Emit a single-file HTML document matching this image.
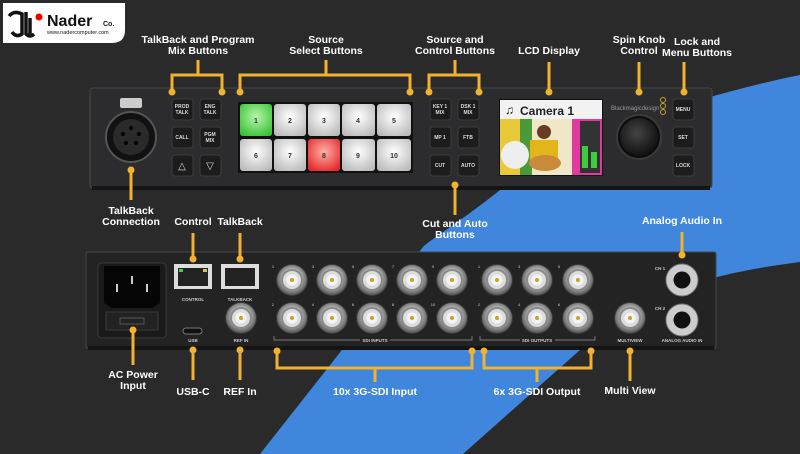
<!DOCTYPE html>
<html><head><meta charset="utf-8"><style>
html,body{margin:0;padding:0;background:#2a2a2a;}
svg{display:block}
text{font-family:"Liberation Sans",sans-serif;}
.l{fill:#fff;font-weight:bold;font-size:10.5px;text-anchor:middle}
.b{fill:#ddd;font-weight:bold;font-size:5px;text-anchor:middle}
.s{fill:#ccc;font-weight:bold;font-size:4.5px;text-anchor:middle}
.o{stroke:#f2b230;stroke-width:3;fill:none}
.d{fill:#f2b230}
</style></head><body>
<svg width="800" height="454" viewBox="0 0 800 454" xmlns="http://www.w3.org/2000/svg">
<defs>
<radialGradient id="bnc" cx="50%" cy="45%" r="55%"><stop offset="0" stop-color="#f0f0f0"/><stop offset="0.6" stop-color="#aaa"/><stop offset="1" stop-color="#555"/></radialGradient>
<radialGradient id="wb" cx="50%" cy="40%" r="65%"><stop offset="0" stop-color="#fff"/><stop offset="1" stop-color="#bdbdbd"/></radialGradient>
<radialGradient id="gb" cx="50%" cy="40%" r="65%"><stop offset="0" stop-color="#b8f5a8"/><stop offset="1" stop-color="#3bc43b"/></radialGradient>
<radialGradient id="rb" cx="50%" cy="40%" r="65%"><stop offset="0" stop-color="#ffb0a8"/><stop offset="1" stop-color="#e52d2d"/></radialGradient>
<radialGradient id="kn" cx="45%" cy="40%" r="60%"><stop offset="0" stop-color="#444"/><stop offset="1" stop-color="#111"/></radialGradient>
<g id="bn"><circle r="16" fill="#3a3a3a"/><circle r="15" fill="url(#bnc)"/><circle r="11" fill="#8a8a8a"/><circle r="9" fill="#ddd"/><circle r="5.5" fill="#f4f4f4"/><circle r="2" fill="#c9a227"/></g>
<g id="btn"><rect x="0" y="0" width="21" height="21" rx="3" fill="#1c1c1c" stroke="#3c3c3c"/></g>
</defs>
<rect width="800" height="454" fill="#2a2a2a"/>
<path d="M800,75 C700,95 560,140 500,190 C460,222 430,240 423,247 L260,454 L463,454 L580,350 C640,295 700,275 800,262 Z" fill="#3f86dc"/>

<!-- logo -->
<path d="M3,3 H125 V30 Q125,43 112,43 H3 Z" fill="#fff"/>
<path d="M9,16 Q14,10 22,14 L22,34 Q16,38 12,32 M26,12 V34 Q30,38 34,34 M30,18 V34" stroke="#111" stroke-width="3.5" fill="none"/>
<circle cx="39" cy="17" r="3.5" fill="#e00"/>
<text x="47" y="26" font-size="16" font-weight="bold" fill="#111">Nader</text>
<text x="103" y="26" font-size="7" font-weight="bold" fill="#111">Co.</text>
<text x="47" y="34" font-size="5.5" fill="#111">www.nadercomputer.com</text>

<!-- labels -->
<text class="l" x="198" y="43">TalkBack and Program</text><text class="l" x="198" y="54">Mix Buttons</text>
<text class="l" x="326" y="43">Source</text><text class="l" x="326" y="54">Select Buttons</text>
<text class="l" x="455" y="43">Source and</text><text class="l" x="455" y="54">Control Buttons</text>
<text class="l" x="549" y="54">LCD Display</text>
<text class="l" x="639" y="43">Spin Knob</text><text class="l" x="639" y="54">Control</text>
<text class="l" x="697" y="45">Lock and</text><text class="l" x="697" y="56">Menu Buttons</text>
<text class="l" x="131" y="214">TalkBack</text><text class="l" x="131" y="225">Connection</text>
<text class="l" x="455" y="227">Cut and Auto</text><text class="l" x="455" y="238">Buttons</text>
<text class="l" x="193" y="225">Control</text><text class="l" x="240" y="225">TalkBack</text>
<text class="l" x="682" y="224">Analog Audio In</text>
<text class="l" x="133" y="378">AC Power</text><text class="l" x="133" y="389">Input</text>
<text class="l" x="193" y="395">USB-C</text><text class="l" x="240" y="395">REF In</text>
<text class="l" x="375" y="395">10x 3G-SDI Input</text>
<text class="l" x="537" y="395">6x 3G-SDI Output</text>
<text class="l" x="630" y="394">Multi View</text>

<!-- front panel -->
<rect x="90" y="88" width="622" height="100" rx="3" fill="#2c2c2e" stroke="#484848"/>
<rect x="92" y="186" width="618" height="4" fill="#151515"/>
<circle cx="131" cy="137" r="25" fill="#111" stroke="#555" stroke-width="2"/>
<circle cx="131" cy="137" r="18" fill="#2a2a2a"/>
<rect x="120" y="98" width="22" height="10" rx="2" fill="#ccc"/>
<g fill="#000"><circle cx="131" cy="128" r="2"/><circle cx="123" cy="134" r="2"/><circle cx="139" cy="134" r="2"/><circle cx="126" cy="143" r="2"/><circle cx="136" cy="143" r="2"/></g>

<use href="#btn" x="172" y="99"/><use href="#btn" x="200" y="99"/>
<use href="#btn" x="172" y="127"/><use href="#btn" x="200" y="127"/>
<use href="#btn" x="172" y="155"/><use href="#btn" x="200" y="155"/>
<text class="b" x="182" y="108">PROD</text><text class="b" x="182" y="114">TALK</text>
<text class="b" x="210" y="108">ENG</text><text class="b" x="210" y="114">TALK</text>
<text class="b" x="182" y="139">CALL</text>
<text class="b" x="210" y="136">PGM</text><text class="b" x="210" y="142">MIX</text>
<text x="182" y="169" font-size="10" fill="#ddd" text-anchor="middle">△</text>
<text x="210" y="169" font-size="10" fill="#ddd" text-anchor="middle">▽</text>

<rect x="238" y="102" width="175" height="71" fill="#111"/>
<g font-size="7" font-weight="bold" fill="#333" text-anchor="middle">
<rect x="240" y="104" width="32" height="32" rx="3" fill="url(#gb)"/><text x="256" y="123">1</text>
<rect x="274" y="104" width="32" height="32" rx="3" fill="url(#wb)"/><text x="290" y="123">2</text>
<rect x="308" y="104" width="32" height="32" rx="3" fill="url(#wb)"/><text x="324" y="123">3</text>
<rect x="342" y="104" width="33" height="32" rx="3" fill="url(#wb)"/><text x="358" y="123">4</text>
<rect x="377" y="104" width="34" height="32" rx="3" fill="url(#wb)"/><text x="394" y="123">5</text>
<rect x="240" y="139" width="32" height="32" rx="3" fill="url(#wb)"/><text x="256" y="158">6</text>
<rect x="274" y="139" width="32" height="32" rx="3" fill="url(#wb)"/><text x="290" y="158">7</text>
<rect x="308" y="139" width="32" height="32" rx="3" fill="url(#rb)"/><text x="324" y="158">8</text>
<rect x="342" y="139" width="33" height="32" rx="3" fill="url(#wb)"/><text x="358" y="158">9</text>
<rect x="377" y="139" width="34" height="32" rx="3" fill="url(#wb)"/><text x="394" y="158">10</text>
</g>

<use href="#btn" x="430" y="99"/><use href="#btn" x="458" y="99"/>
<use href="#btn" x="430" y="127"/><use href="#btn" x="458" y="127"/>
<use href="#btn" x="430" y="155"/><use href="#btn" x="458" y="155"/>
<text class="b" x="440" y="108">KEY 1</text><text class="b" x="440" y="114">MIX</text>
<text class="b" x="468" y="108">DSK 1</text><text class="b" x="468" y="114">MIX</text>
<text class="b" x="440" y="139">MP 1</text><text class="b" x="468" y="139">FTB</text>
<text class="b" x="440" y="167">CUT</text><text class="b" x="468" y="167">AUTO</text>

<!-- LCD -->
<rect x="499" y="99" width="104" height="77" fill="#111"/>
<rect x="500" y="100" width="102" height="19" fill="#f2f2f2"/>
<text x="505" y="114" font-size="12" fill="#222">♫</text>
<text x="520" y="115" font-size="12" font-weight="bold" fill="#222">Camera 1</text>
<rect x="500" y="119" width="102" height="56" fill="#7bb13a"/>
<rect x="500" y="119" width="20" height="56" fill="#e8c93a"/>
<rect x="520" y="119" width="12" height="56" fill="#4a9a38"/>
<rect x="532" y="119" width="40" height="56" fill="#f0e6c8"/>
<rect x="572" y="119" width="30" height="56" fill="#e03aa0"/>
<circle cx="515" cy="155" r="14" fill="#eee"/>
<rect x="530" y="140" width="28" height="25" fill="#e2b51a"/>
<circle cx="544" cy="132" r="7" fill="#6b3a22"/>
<ellipse cx="545" cy="163" rx="16" ry="8" fill="#c98a3a"/>
<rect x="580" y="121" width="20" height="52" fill="#333"/>
<rect x="582" y="146" width="6" height="22" fill="#3ccc3c"/><rect x="591" y="152" width="6" height="16" fill="#3ccc3c"/>

<text x="611" y="110" font-size="6" fill="#999">Blackmagicdesign</text>
<circle cx="663" cy="100" r="2.5" fill="none" stroke="#c9a030"/><circle cx="663" cy="106" r="2.5" fill="none" stroke="#c9a030"/><circle cx="663" cy="112" r="2.5" fill="none" stroke="#c9a030"/>
<circle cx="639" cy="137" r="22" fill="#0c0c0c" stroke="#3a3a3a" stroke-width="2"/>
<circle cx="639" cy="137" r="19" fill="url(#kn)"/>

<use href="#btn" x="673" y="99"/><use href="#btn" x="673" y="127"/><use href="#btn" x="673" y="155"/>
<text class="b" x="683" y="111">MENU</text><text class="b" x="683" y="139">SET</text><text class="b" x="683" y="167">LOCK</text>

<!-- rear panel -->
<rect x="86" y="252" width="630" height="96" rx="2" fill="#232324" stroke="#474747"/>
<rect x="88" y="346" width="626" height="4" fill="#141414"/>
<rect x="98" y="263" width="68" height="75" rx="4" fill="#1a1a1a" stroke="#3a3a3a"/>
<path d="M104,266 H160 V303 L152,308 H112 L104,303 Z" fill="#050505"/>
<rect x="116" y="284" width="2" height="8" fill="#ccc"/><rect x="131" y="276" width="2" height="8" fill="#ccc"/><rect x="146" y="284" width="2" height="8" fill="#ccc"/>
<rect x="106" y="312" width="52" height="18" fill="#222" stroke="#3a3a3a"/>
<rect x="120" y="318" width="24" height="6" fill="none" stroke="#555"/>

<rect x="174" y="264" width="38" height="25" fill="#ddd"/><rect x="178" y="268" width="30" height="18" fill="#222"/>
<rect x="221" y="264" width="38" height="25" fill="#ddd"/><rect x="225" y="268" width="30" height="18" fill="#222"/>
<rect x="179" y="269" width="4" height="3" fill="#4c4"/><rect x="203" y="269" width="4" height="3" fill="#cc4"/>
<text class="s" x="193" y="301">CONTROL</text><text class="s" x="240" y="301">TALKBACK</text>
<rect x="183" y="328" width="19" height="6" rx="3" fill="#111" stroke="#777"/>
<text class="s" x="193" y="342">USB</text><text class="s" x="241" y="342">REF IN</text>
<use href="#bn" x="241" y="318"/>

<use href="#bn" x="292" y="280"/><use href="#bn" x="332" y="280"/><use href="#bn" x="372" y="280"/><use href="#bn" x="412" y="280"/><use href="#bn" x="452" y="280"/>
<use href="#bn" x="292" y="318"/><use href="#bn" x="332" y="318"/><use href="#bn" x="372" y="318"/><use href="#bn" x="412" y="318"/><use href="#bn" x="452" y="318"/>
<use href="#bn" x="497" y="280"/><use href="#bn" x="537" y="280"/><use href="#bn" x="578" y="280"/>
<use href="#bn" x="497" y="318"/><use href="#bn" x="537" y="318"/><use href="#bn" x="578" y="318"/>
<use href="#bn" x="630" y="318"/>
<g fill="#ccc" font-size="4" text-anchor="middle">
<text x="273" y="268">1</text><text x="313" y="268">3</text><text x="353" y="268">5</text><text x="393" y="268">7</text><text x="433" y="268">9</text>
<text x="273" y="306">2</text><text x="313" y="306">4</text><text x="353" y="306">6</text><text x="393" y="306">8</text><text x="433" y="306">10</text>
<text x="479" y="268">1</text><text x="519" y="268">3</text><text x="559" y="268">5</text>
<text x="479" y="306">2</text><text x="519" y="306">4</text><text x="559" y="306">6</text>
</g>
<path d="M274,336 V340 H360 M390,340 H472 V336 M480,336 V340 H520 M555,340 H595 V336" stroke="#999" stroke-width="0.7" fill="none"/>
<text class="s" x="375" y="342">SDI INPUTS</text><text class="s" x="537" y="342">SDI OUTPUTS</text>
<text class="s" x="630" y="342">MULTIVIEW</text><text class="s" x="682" y="342">ANALOG AUDIO IN</text>
<text class="s" x="660" y="270">CH 1</text><text class="s" x="660" y="310">CH 2</text>
<circle cx="682" cy="280" r="16" fill="#ccc" stroke="#777"/><circle cx="682" cy="280" r="8.5" fill="#111"/>
<circle cx="682" cy="320" r="16" fill="#ccc" stroke="#777"/><circle cx="682" cy="320" r="8.5" fill="#111"/>

<!-- connectors -->
<path class="o" d="M198,60 V75 M172,92 V75 H222 V92 M326,60 V75 M240,92 V75 H410 V92 M455,60 V75 M429,92 V75 H479 V92 M549,62 V92 M639,62 V92 M684,62 V92 M131,170 V200 M455,185 V215 M193,233 V259 M240,233 V259 M682,232 V255 M133,330 V365 M193,350 V380 M240,350 V380 M277,351 V368 H472 V351 M375,368 V382 M484,351 V368 H591 V351 M537,368 V382 M630,351 V381"/>
<g class="d">
<circle cx="172" cy="92" r="3.5"/><circle cx="222" cy="92" r="3.5"/><circle cx="240" cy="92" r="3.5"/><circle cx="410" cy="92" r="3.5"/><circle cx="429" cy="92" r="3.5"/><circle cx="479" cy="92" r="3.5"/><circle cx="549" cy="92" r="3.5"/><circle cx="639" cy="92" r="3.5"/><circle cx="684" cy="92" r="3.5"/>
<circle cx="131" cy="170" r="3.5"/><circle cx="455" cy="185" r="3.5"/><circle cx="193" cy="259" r="3.5"/><circle cx="240" cy="259" r="3.5"/><circle cx="682" cy="255" r="3.5"/>
<circle cx="133" cy="330" r="3.5"/><circle cx="193" cy="350" r="3.5"/><circle cx="240" cy="350" r="3.5"/><circle cx="277" cy="351" r="3.5"/><circle cx="472" cy="351" r="3.5"/><circle cx="484" cy="351" r="3.5"/><circle cx="591" cy="351" r="3.5"/><circle cx="630" cy="351" r="3.5"/>
</g>
</svg>
</body></html>
